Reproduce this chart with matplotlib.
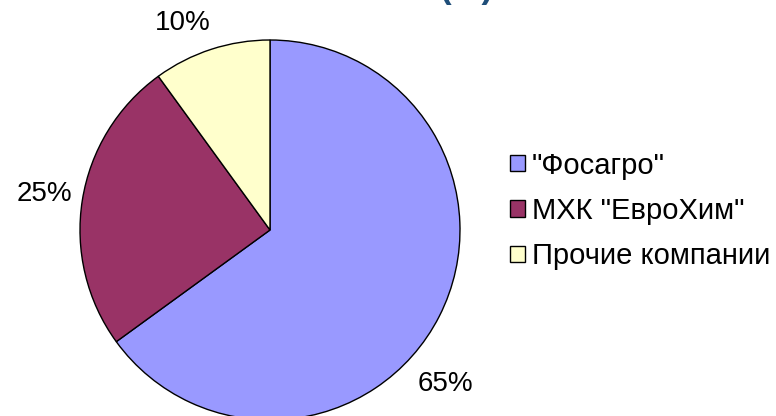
import numpy as np
import matplotlib
matplotlib.use("Agg")
import matplotlib.pyplot as plt
from matplotlib.patches import Patch

categories = ['"Фосагро"', 'МХК "ЕвроХим"', 'Прочие компании']
values = [65, 25, 10]
labels = ['65%', '25%', '10%']
colors = ['#9999FF', '#993366', '#FFFFCC']

plt.rcParams['font.family'] = ['Liberation Sans', 'DejaVu Sans']

W, H = 776, 416
fig = plt.figure(figsize=(W / 100, H / 100), dpi=100)
ax = fig.add_axes([0, 0, 1, 1])
ax.set_xlim(0, W)
ax.set_ylim(0, H)
ax.set_aspect('equal')
ax.axis('off')

cx, cy, r = 270, H - 230, 190
wedges, texts = ax.pie(values, colors=colors, startangle=90, counterclock=False,
                       center=(cx, cy), radius=r, labels=labels, labeldistance=1.19,
                       wedgeprops=dict(edgecolor='black', linewidth=1.0),
                       textprops=dict(fontsize=20, color='black'))
ax.set_xlim(0, W)
ax.set_ylim(0, H)
# label placement (angle in degrees, distance as fraction of radius), as Excel placed them
label_pos = [(-41.3, 1.23), (171, 1.20), (112.9, 1.18)]
for t, (a, d) in zip(texts, label_pos):
    ang = np.deg2rad(a)
    t.set_position((cx + d * r * np.cos(ang), cy + d * r * np.sin(ang)))
    t.set_ha('center'); t.set_va('center')

ax.text(466, H + 2, '(%)', ha='center', va='baseline', fontsize=25,
        fontweight='bold', color='#1F4E79', clip_on=False)

handles = [Patch(facecolor=c, edgecolor='black', linewidth=1.0) for c in colors]
leg = fig.legend(handles, categories, loc='center left', bbox_to_anchor=(510 / W, 1 - 211 / H),
                 frameon=False, fontsize=21, handlelength=0.5, handleheight=0.5,
                 handletextpad=0.25, labelspacing=0.6, borderpad=0, borderaxespad=0)

fig.savefig('out.png', dpi=100)
